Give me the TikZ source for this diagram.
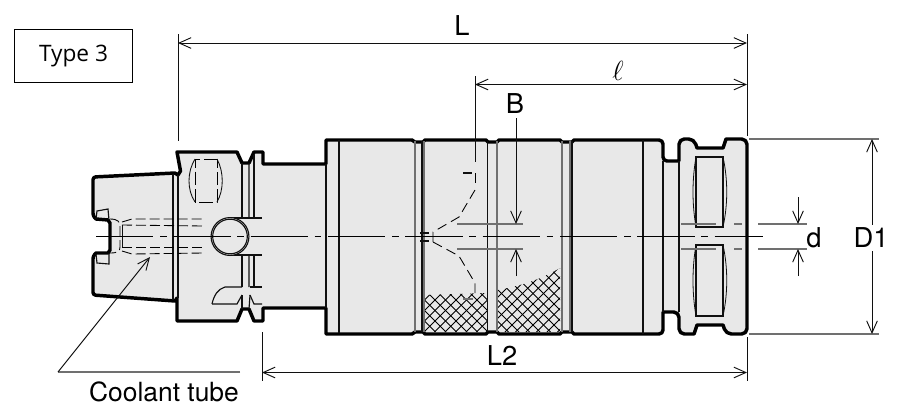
\documentclass[tikz,border=0pt]{standalone}
\usepackage{fontspec}
\newfontfamily\dimfont{TeX Gyre Heros}
\newfontfamily\typefont{Open Sans}
\usetikzlibrary{arrows.meta}
\definecolor{bodyfill}{HTML}{E8E8E8}
\definecolor{inkc}{HTML}{101010}
\definecolor{groove}{HTML}{707070}
\tikzset{
  x=.75pt,y=-.75pt,
  outline/.style={draw=black,fill=bodyfill,line width=2.6pt,line join=round},
  thin line/.style={draw=inkc,line width=.85pt},
  grooveline/.style={draw=groove,line width=1.3pt},
  hidden/.style={draw=black,line width=.65pt,dash pattern=on 7.5pt off 3pt},
  centre/.style={draw=black,line width=.7pt,dash pattern=on 43pt off 5pt on 5pt off 5pt},
  dimline/.style={draw=inkc,line width=.75pt},
  hatchline/.style={draw=black,line width=.7pt},
  dimarrow/.style={dimline,{Straight Barb[length=9pt,width=8pt,line width=.7pt]}-{Straight Barb[length=9pt,width=8pt,line width=.7pt]}},
  endarrow/.style={dimline,-{Straight Barb[length=9pt,width=8pt,line width=.7pt]}},
  dimlabel/.style={font=\dimfont\fontsize{20.5pt}{22pt}\selectfont,inner sep=0pt,text=black},
}
\begin{document}
\begin{tikzpicture}
\useasboundingbox (0,0) rectangle (903,415);
\fill[white] (0,0) rectangle (903,415);

% body outline
\draw[outline] (110,237) -- (110,223) -- (108,220) -- (96,219)
  [rounded corners=2pt] -- (93,216) -- (93,177) [sharp corners] -- (175,173) -- (178,175) -- (180.5,171) -- (177,152)
  -- (237,152) -- (242,163) -- (249,163) -- (254,152) -- (263,152) -- (263,164) -- (326,164) -- (326,140)
  -- (412,140) -- (415,142) -- (423,142) -- (425,140)
  -- (486,140) -- (488,142) -- (497,142) -- (499,140)
  -- (560,140) -- (562,142) -- (572,142) -- (574,140)
  [rounded corners=3pt] -- (663,140) -- (663,161) [sharp corners] -- (679,161)
  [rounded corners=4pt] -- (679,139) -- (694,139) [sharp corners] -- (697,148) -- (723,148) -- (726,139)
  [rounded corners=4pt] -- (747,139) -- (747,334) -- (726,334) [sharp corners] -- (723,325) -- (697,325) -- (694,334)
  [rounded corners=4pt] -- (679,334) -- (679,312) [sharp corners] -- (663,312)
  [rounded corners=3pt] -- (663,334) [sharp corners] -- (574,334) -- (572,332) -- (562,332) -- (560,334)
  -- (499,334) -- (497,332) -- (488,332) -- (486,334)
  -- (425,334) -- (423,332) -- (415,332) -- (412,334)
  -- (326,334) -- (326,308) -- (263,308) -- (263,321) -- (254,321) -- (249,309) -- (242,309) -- (237,321)
  -- (177,321) -- (177,298) -- (175,301) [rounded corners=2pt] -- (93,295) -- (93,256) [sharp corners] -- (96,253)
  -- (108,253) -- (110,250) -- cycle;

% knurled bands
\begin{scope}
  \clip (425,295) -- (487,293) -- (487,332) -- (425,332) -- cycle;
  \foreach \x in {340,350.5,...,500} \draw[hatchline] (\x,332) -- ++(45,-45);
  \foreach \x in {425,435.5,...,540} \draw[hatchline] (\x,332) -- ++(-45,-45);
\end{scope}
\begin{scope}
  \clip (498,290) .. controls (520,286) and (540,280) .. (560,268) -- (560,332) -- (498,332) -- cycle;
  \foreach \x in {400,410.5,...,570} \draw[hatchline] (\x,332) -- ++(65,-65);
  \foreach \x in {498,508.5,...,630} \draw[hatchline] (\x,332) -- ++(-65,-65);
\end{scope}

% vertical lines of the body
\draw[thin line] (173,174) -- (173,300);
\draw[thin line] (178,175) -- (178,298);
\draw[thin line] (242,163) -- (242,218) (242,255) -- (242,287) (242,295) -- (242,309);
\draw[thin line] (249,163) -- (249,218) (249,255) -- (249,287) (250,295) -- (249,309);
\draw[thin line] (254,155) -- (254,218) (254,255) -- (254,287);
\draw[thin line] (326,164) -- (326,308);
\draw[thin line,line width=1.2pt] (339,140) -- (339,333);
\draw[grooveline] (415,141) -- (415,332) (424,141) -- (424,332);
\draw[thin line] (422,141) -- (422,332);
\draw[thin line] (487.5,141) -- (487.5,332);
\draw[grooveline,line width=2pt] (497,141) -- (497,332);
\draw[grooveline] (562,141) -- (562,332) (570,141) -- (570,332);
\draw[thin line] (572,141) -- (572,332);
\draw[thin line] (643,140) -- (643,334);
\draw[thin line] (663,161) -- (663,312);
\draw[thin line] (679,161) -- (679,312);

% taper details
\draw[thin line] (96,219) -- (97,211) -- (108,209) -- (109,220);
\draw[thin line] (96,254) -- (97,263) -- (109,264) -- (109,253);
\draw[hidden] (110,219) .. controls (118,219) and (120,222) .. (120,226) -- (120,247) .. controls (120,251) and (118,253) .. (110,253);
\draw[hidden] (122,225) -- (203,226);
\draw[hidden] (122,247) -- (203,247);
\draw[hidden] (122,222) -- (132,219) -- (203,219);
\draw[hidden] (122,251) -- (132,254) -- (203,253);
\draw[thin line,line width=.6pt] (122,225) -- (122,247);

% drive key, upper oval
\draw[hidden,dash pattern=on 10pt off 3pt] (217,159) -- (195,159) -- (195,202) -- (217,202) -- cycle;
\draw[thin line,line width=.65pt] (195,159) .. controls (187,172) and (187,190) .. (195,202);
\draw[thin line,line width=.65pt] (217,159) .. controls (224,172) and (224,190) .. (217,202);

% cross hole
\draw[thin line] (230,218) -- (262,218) (230,255) -- (262,255);
\draw[thin line,fill=bodyfill] (230,236.5) circle (14.2pt);
\draw[thin line] (230,236.5) circle (13pt);

% lower key
\draw[thin line] (212,304) .. controls (214,295) and (218,289) .. (225,287) -- (242,287);
\draw[thin line] (250,287) -- (262,287);
\draw[thin line] (212,304) -- (237,304) -- (242,295);
\draw[thin line] (250,295) -- (254,304) -- (262,304);

% centre line
\draw[centre] (96,236.5) -- (763,236.5);

% drill point, hidden
\draw[hidden,dash pattern=on 7.5pt off 4pt] (475,173) -- (475,186);
\draw[hidden,dash pattern=on 7.5pt off 4pt] (475,190) -- (459,217) -- (433,232) -- (433,242);
\draw[hidden,dash pattern=on 7.5pt off 4pt] (433,242) -- (459,256) -- (475,283) -- (475,293);
\draw[thin line] (463,173) -- (472,173);
\draw[thin line,draw=groove] (463,299) -- (473,299);
\draw[thin line] (420,233) -- (429,233) (420,241) -- (429,241);

% collar windows
\draw[thin line] (696,157) rectangle (723,227);
\draw[thin line,line width=.6pt] (696,157) .. controls (692,180) and (692,204) .. (696,227);
\draw[thin line,line width=.6pt] (723,157) .. controls (728,180) and (728,204) .. (723,227);
\draw[thin line] (696,245) rectangle (723,316);
\draw[thin line,line width=.6pt] (696,245) .. controls (692,268) and (692,293) .. (696,316);
\draw[thin line,line width=.6pt] (723,245) .. controls (728,268) and (728,293) .. (723,316);

% bore lines
\draw[dimline,draw=groove,line width=.9pt] (681,224) -- (716,224) (734,224) -- (742,224) (758,224) -- (807,224);
\draw[dimline,draw=groove,line width=.9pt] (681,249) -- (716,249) (734,249) -- (742,249) (758,249) -- (807,249);
\draw[dimline,draw=groove,line width=.9pt] (457,224) -- (523,224) (457,249) -- (523,249);

% frame
\node[draw=black,line width=.75pt,minimum width=89pt,minimum height=39.5pt,inner sep=0pt,font=\typefont\fontsize{17pt}{18pt}\selectfont] (typebox) at (73.5,56) {Type 3};

% dimension anchors
\coordinate (Lx1) at (178,34); \coordinate (Lx2) at (178,141);
\coordinate (Rx1) at (747,34); \coordinate (Rx2) at (747,136);
\coordinate (La) at (178,43); \coordinate (Lb) at (747,43);
\coordinate (la) at (475,84.5); \coordinate (lb) at (747,84.5);
\coordinate (lx1) at (475,76); \coordinate (lx2) at (475,162);
\coordinate (L2a) at (262,372.5); \coordinate (L2b) at (747,372.5);
\coordinate (L2x1) at (262,332); \coordinate (L2x2) at (262,381);
\coordinate (R2x1) at (747,337); \coordinate (R2x2) at (747,381);
\coordinate (Da) at (872,139); \coordinate (Db) at (872,334);
\coordinate (D1x1) at (749,139); \coordinate (D1x2) at (879,139);
\coordinate (D2x1) at (749,334); \coordinate (D2x2) at (879,334);
\coordinate (Bt) at (516,118); \coordinate (Bu) at (516,224);
\coordinate (Bd) at (516,276); \coordinate (Bl) at (516,249);
\coordinate (dt) at (798,197); \coordinate (du) at (798,224);
\coordinate (dd) at (798,276); \coordinate (dl) at (798,249);
\coordinate (lead0) at (240,372); \coordinate (lead1) at (58,372); \coordinate (lead2) at (150,257);

\draw[dimline] (Lx1) -- (Lx2);
\draw[dimline] (Rx1) -- (Rx2);
\draw[dimarrow] (La) -- (Lb);
\draw[dimline] (lx1) -- (lx2);
\draw[dimarrow] (la) -- (lb);
\draw[dimline] (L2x1) -- (L2x2);
\draw[dimline] (R2x1) -- (R2x2);
\draw[dimarrow] (L2a) -- (L2b);
\draw[dimline,draw=groove,line width=.8pt] (D1x1) -- (D1x2);
\draw[dimline,draw=groove,line width=.8pt] (D2x1) -- (D2x2);
\draw[dimarrow] (Da) -- (Db);
\draw[endarrow] (Bt) -- (Bu);
\draw[endarrow] (Bd) -- (Bl);
\draw[endarrow] (dt) -- (du);
\draw[endarrow] (dd) -- (dl);
\draw[dimline,draw=groove,line width=.9pt] (lead0) -- (lead1);
\draw[endarrow] (lead1) -- (lead2);

% labels
\node[dimlabel] (labL) at (462,26) {L};
\node[dimlabel,font=\fontsize{22pt}{24pt}\selectfont] (labl) at (618,71) {$\ell$};
\node[dimlabel] (labB) at (515,104) {B};
\node[dimlabel] (labL2) at (502,356) {L2};
\node[dimlabel] (labd) at (814,238) {d};
\node[dimlabel,fill=white,inner ysep=2pt] (labD) at (871,238) {D1};
\node[dimlabel,font=\dimfont\fontsize{19.8pt}{22pt}\selectfont] (labC) at (164,392) {Coolant tube};
\end{tikzpicture}
\end{document}
